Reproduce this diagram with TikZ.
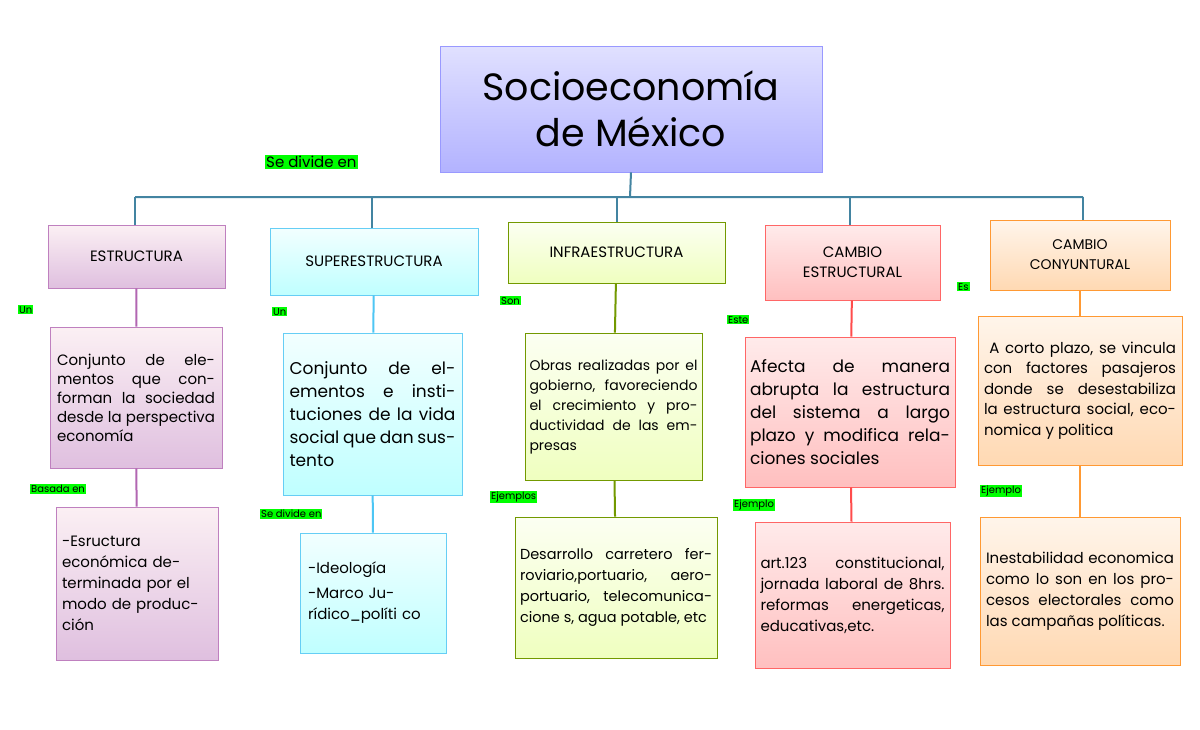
\documentclass[tikz,border=0pt]{standalone}
\usepackage{fontspec}
\setmainfont{Poppins}
\begin{document}
\begin{tikzpicture}[x=1pt,y=-1pt,
 bx/.style={draw,line width=0.8pt,inner sep=4pt,align=center},
 lab/.style={fill=green,inner sep=1pt,font=\fontsize{10}{12}\selectfont,anchor=north west},
 pu/.style={top color=purple!6!white,bottom color=violet!25!white,draw=violet!50},
 cy/.style={top color=cyan!5!white,bottom color=cyan!25!white,draw=cyan!60},
 gr/.style={top color=lime!5!white,bottom color=lime!25!white,draw=lime!60!black},
 re/.style={top color=red!8!white,bottom color=red!25!white,draw=red!60},
 og/.style={top color=orange!8!white,bottom color=orange!30!white,draw=orange!80},
 ln/.style={line width=2pt}]
\useasboundingbox (0,0) rectangle (1200,729);
\fill[white] (0,0) rectangle (1200,729);
\newcommand{\bxx}[6]{\node[#1,minimum width=#4-#2,minimum height=#5-#3] (#6) at ({(#2+#4)/2},{(#3+#5)/2}) {};}
% title
\node[draw=blue!40,line width=0.8pt,top color=blue!12!white,bottom color=blue!30!white,minimum width=382,minimum height=126,align=center,font=\fontsize{38}{46}\selectfont] (t) at (631,109) {Socioeconomía\\de México};
\node[lab,font=\fontsize{15}{18}\selectfont] (sd) at (265,155) {Se divide en};
% row1
\bxx{bx,pu}{48}{225}{225}{288}{a1}
\bxx{bx,cy}{270}{228}{478}{295}{b1}
\bxx{bx,gr}{508}{222}{725}{283}{c1}
\bxx{bx,re}{765}{225}{940}{300}{d1}
\bxx{bx,og}{990}{220}{1170}{290}{e1}
\tikzset{hd/.style={font=\fontsize{15}{20}\selectfont,align=center}}
\node[hd] at (a1) {ESTRUCTURA};
\node[hd] at (b1) {SUPERESTRUCTURA};
\node[hd] at (c1) {INFRAESTRUCTURA};
\node[hd] at (d1) {CAMBIO\\ESTRUCTURAL};
\node[hd,font=\fontsize{14}{20}\selectfont] at (e1) {CAMBIO\\CONYUNTURAL};
% teal connectors
\coordinate (h) at (630,197);
\coordinate (hl) at (135,197);
\coordinate (hr) at (1083,197);
\draw[ln,cyan!60!black] (t.south) -- (h) (hl) -- (hr);
\foreach \n/\x in {a1/135,b1/372,c1/617,d1/850,e1/1083}{\draw[ln,cyan!60!black] (\x,197) -- (\x,0 |- \n.north);}
% row2
\bxx{bx,pu}{50}{327}{222}{468}{a2}
\bxx{bx,cy}{283}{333}{462}{495}{b2}
\bxx{bx,gr}{525}{333}{702}{480}{c2}
\bxx{bx,re}{745}{337}{955}{487}{d2}
\bxx{bx,og}{978}{316}{1182}{465}{e2}
% row3
\bxx{bx,pu}{56}{507}{218}{660}{a3}
\bxx{bx,cy}{300}{533}{446}{653}{b3}
\bxx{bx,gr}{515}{517}{717}{658}{c3}
\bxx{bx,re}{755}{522}{950}{668}{d3}
\bxx{bx,og}{980}{517}{1180}{665}{e3}
\tikzset{bt/.style n args={2}{align=justify,inner sep=0pt,font=\fontsize{#1}{#2}\selectfont}}
\node[bt={15}{19},text width=158] at (a2) {Conjunto de elementos que conforman la sociedad desde la perspectiva economía};
\node[bt={17}{23},text width=166] at (b2) {Conjunto de elementos e instituciones de la vida social que dan sustento};
\node[bt={14}{20},text width=168] at (c2) {Obras realizadas por el gobierno, favoreciendo el crecimiento y productividad de las empresas};
\node[bt={17}{23},text width=200] at (d2) {Afecta de manera abrupta la estructura del sistema a largo plazo y modifica relaciones sociales};
\node[bt={15}{20.5},text width=192] at (e2) {\ A corto plazo, se vincula con factores pasajeros donde se desestabiliza la estructura social, economica y politica};
\node[bt={15}{21},text width=150,align=left] at (a3) {-Esructura económica determinada por el modo de producción};
\node[bt={15}{21},text width=130,align=left] at (b3) {-Ideología\\[4pt]-Marco Jurídico\_políti co};
\node[bt={14.5}{21},text width=192] at (c3) {Desarrollo carretero ferroviario,portuario, aeroportuario, telecomunicacione s, agua potable, etc};
\node[bt={15}{21},text width=184] at (d3) {art.123 constitucional, jornada laboral de 8hrs. reformas energeticas, educativas,etc.};
\node[bt={15}{21},text width=188] at (e3) {Inestabilidad economica como lo son en los procesos electorales como las campañas políticas.};
% vertical connectors
\draw[ln,violet!60] (a1) -- (a2); \draw[ln,violet!60] (a2) -- (a3);
\draw[ln,cyan!70] (b1) -- (b2); \draw[ln,cyan!70] (b2) -- (b3);
\draw[ln,lime!60!black] (c1) -- (c2); \draw[ln,lime!60!black] (c2) -- (c3);
\draw[ln,red!70] (d1) -- (d2); \draw[ln,red!70] (d2) -- (d3);
\draw[ln,orange!80] (e1) -- (e2); \draw[ln,orange!80] (e2) -- (e3);
% labels
\node[lab] (l1) at (18,305) {Un};
\node[lab] (l2) at (272,307) {Un};
\node[lab] (l3) at (500,296) {Son};
\node[lab] (l4) at (727,315) {Este};
\node[lab] (l5) at (957,282) {Es};
\node[lab] (l6) at (30,484) {Basada en};
\node[lab] (l7) at (260,509) {Se divide en};
\node[lab] (l8) at (490,491) {Ejemplos};
\node[lab] (l9) at (733,499) {Ejemplo};
\node[lab] (l10) at (980,485) {Ejemplo};
\end{tikzpicture}
\end{document}
